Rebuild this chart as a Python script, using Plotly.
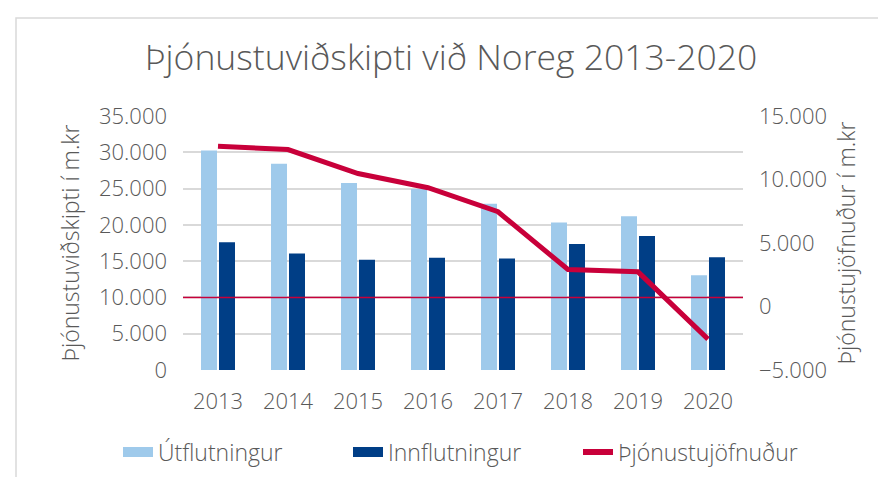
import plotly.graph_objects as go

years = ["2013", "2014", "2015", "2016", "2017", "2018", "2019", "2020"]
utflutningur = [30260, 28420, 25760, 24950, 22900, 20340, 21170, 13040]
innflutningur = [17590, 16070, 15200, 15470, 15380, 17360, 18460, 15520]
jofnudur = [12620, 12360, 10470, 9350, 7460, 2910, 2730, -2570]
left_ticks = [0, 5000, 10000, 15000, 20000, 25000, 30000, 35000]
right_ticks = [-5000, 0, 5000, 10000, 15000]
ref_line_value = 10000

C_LIGHT = "#9FCAEB"
C_DARK = "#003E86"
C_RED = "#C8003A"
C_TXT = "#595959"
FONT = "Open Sans"

fig = go.Figure()
fig.add_trace(go.Bar(x=years, y=utflutningur, name="Útflutningur", marker_color=C_LIGHT,
                     marker_line_width=0, showlegend=False))
fig.add_trace(go.Bar(x=years, y=innflutningur, name="Innflutningur", marker_color=C_DARK,
                     marker_line_width=0, showlegend=False))
fig.add_trace(go.Scatter(x=years, y=jofnudur, name="Þjónustujöfnuður", yaxis="y2",
                         mode="lines", line=dict(color=C_RED, width=5), showlegend=False))
# legend entries
for nm, col in [("Útflutningur", C_LIGHT), ("Innflutningur", C_DARK)]:
    fig.add_trace(go.Scatter(x=[None], y=[None], name=nm, mode="lines",
                             line=dict(color=col, width=13)))
fig.add_trace(go.Scatter(x=[None], y=[None], name="Þjónustujöfnuður", mode="lines",
                         line=dict(color=C_RED, width=6)))

fig.add_shape(type="line", xref="paper", yref="y", x0=0, x1=1, y0=ref_line_value, y1=ref_line_value,
              line=dict(color=C_RED, width=1.5), layer="above")
# outer border
fig.add_shape(type="rect", xref="paper", yref="paper",
              x0=(8 - 175) / 560, x1=2.0, y0=-0.6, y1=(362 - 10) / 254,
              line=dict(color="#D9D9D9", width=1.5), fillcolor="rgba(0,0,0,0)")

fig.update_layout(
    width=886, height=477,
    margin=dict(l=175, r=151, t=108, b=115),
    paper_bgcolor="white", plot_bgcolor="white",
    separators=",.",
    font=dict(family=FONT, color=C_TXT, size=22, weight=300),
    title=dict(text="Þjónustuviðskipti við Noreg 2013-2020", x=0.5, xanchor="center",
               y=(477 - 50) / 477, yanchor="middle", yref="container",
               font=dict(size=35.5, color=C_TXT, family=FONT, weight=300)),
    barmode="group", bargap=0.486, bargroupgap=0.11,
    xaxis=dict(showgrid=False, showline=False, ticks="", tickfont=dict(size=22),
               ticklabelstandoff=16),
    yaxis=dict(range=[0, 35000], tickvals=left_ticks, tickformat=",d", showgrid=True,
               gridcolor="#D9D9D9", gridwidth=1.5, zeroline=False, ticks="",
               ticklabelstandoff=15, tickfont=dict(size=22),
               title=dict(text="Þjónustuviðskipti í m.kr", font=dict(size=23), standoff=12)),
    yaxis2=dict(range=[-5000, 15000], tickvals=right_ticks, tickformat=",d", overlaying="y",
                side="right", showgrid=False, zeroline=False, ticks="",
                ticklabelstandoff=15, tickfont=dict(size=22),
                title=dict(text="Þjónustujöfnuður í m.kr", font=dict(size=23), standoff=12)),
    legend=dict(orientation="h", x=(110 - 175) / 560, xanchor="left", xref="paper",
                y=(362 - 444) / 254, yanchor="middle", yref="paper",
                font=dict(size=23), traceorder="normal", entrywidth=185),
)
fig.write_html("out.html")
